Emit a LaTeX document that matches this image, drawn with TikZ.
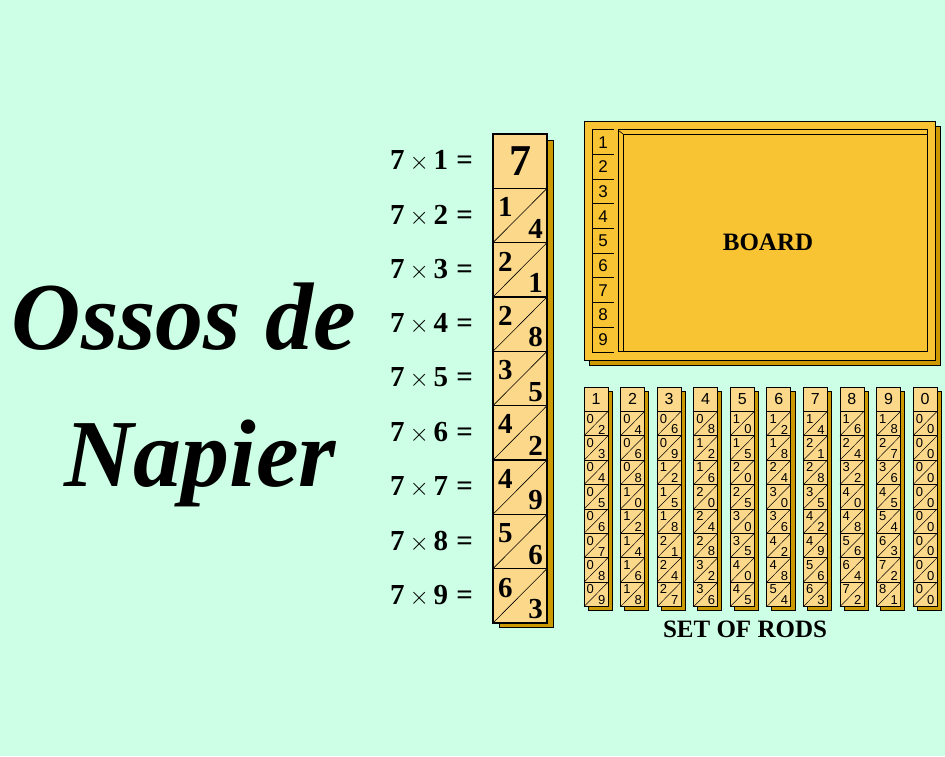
\documentclass[tikz,border=0pt]{standalone}
\usepackage{fontspec}
\setmainfont{Liberation Serif}
\newfontfamily\rodfont{Liberation Sans}
\usetikzlibrary{positioning, calc}

\definecolor{mint}{RGB}{204,255,229}
\definecolor{rodfill}{RGB}{252,217,138}
\definecolor{boardfill}{RGB}{249,196,51}
\definecolor{shade}{RGB}{204,153,0}

\begin{document}
\begin{tikzpicture}[
    x=1pt, y=1pt,
    bigcell/.style={
        rectangle, draw, line width=1.2pt, fill=rodfill,
        minimum width=54pt, minimum height=54.33pt, inner sep=0pt, outer sep=0pt
    },
    rodcell/.style={
        rectangle, draw, line width=0.8pt, fill=rodfill,
        minimum width=24pt, minimum height=24.4pt, inner sep=0pt, outer sep=0pt
    },
    idxcell/.style={
        rectangle, minimum width=22pt, minimum height=24.67pt, inner sep=0pt,
        font=\rodfont\fontsize{17}{17}\selectfont
    },
    boardbox/.style={
        rectangle, draw, line width=1pt, fill=boardfill,
        minimum width=351pt, minimum height=239pt, inner sep=0pt, outer sep=0pt
    },
    eqlbl/.style={font=\fontsize{29}{29}\selectfont, inner sep=0pt, anchor=east},
    bigdig/.style={font=\bfseries\fontsize{29}{29}\selectfont, inner sep=0pt},
    smalldig/.style={font=\rodfont\fontsize{13}{13}\selectfont, inner sep=0pt},
    title/.style={font=\bfseries\itshape\fontsize{96}{96}\selectfont, inner sep=0pt},
    caption/.style={font=\bfseries\fontsize{25}{25}\selectfont, inner sep=0pt}
]

% background
\fill[mint] (0,0) rectangle (945,756);
\useasboundingbox (0,0) rectangle (945,756);

% title
\node[title, anchor=base] (title1) at (184,406) {Ossos de};
\node[title, anchor=base] (title2) at ($(title1.base)+(16,-136)$) {Napier};

% the 7 rod
\filldraw[fill=shade, draw=black, line width=0.8pt] (499,129) rectangle (553,616);
\foreach \i in {1,...,9} {
    \node[bigcell] (b\i) at (520,{622-(\i-0.5)*54.33}) {};
    \node[eqlbl, left=20pt of b\i] (eq\i) {\textbf{7}\,$\times$\,\textbf{\i}\;\textbf{=}};
}
\node[font=\bfseries\fontsize{44}{44}\selectfont, inner sep=0pt] at (b1) {7};
\foreach \i/\t/\u in {2/1/4, 3/2/1, 4/2/8, 5/3/5, 6/4/2, 7/4/9, 8/5/6, 9/6/3} {
    \draw[line width=0.6pt] (b\i.south west) -- (b\i.north east);
    \node[bigdig, anchor=north west] at ($(b\i.north west)+(5,-9)$) {\t};
    \node[bigdig, anchor=south east] at ($(b\i.south east)+(-4,4)$) {\u};
}

% board
\filldraw[fill=shade, draw=black, line width=0.8pt] (589,391) rectangle (940,630);
\node[boardbox] (board) at (759.5,514.5) {};
\draw[line width=1pt, fill=boardfill] (618,404) rectangle (927,626);
\draw[line width=0.8pt] (623,404) -- (623,622) -- (927,622);
\draw[line width=0.6pt] (618,626) -- (623,622);
\draw[line width=1pt] (592,404) -- (592,626);
\foreach \k in {1,...,9} {
    \node[idxcell] (idx\k) at (603,{626-(\k-0.5)*24.67}) {\k};
    \draw[line width=1pt] (idx\k.north west) -- (idx\k.north east);
}
\draw[line width=1pt] (idx9.south west) -- (idx9.south east);
\node[caption] (boardlbl) at (768,514) {BOARD};

% set of rods
\foreach \j in {1,...,10} {
    \pgfmathtruncatemacro{\d}{mod(\j,10)}
    \pgfmathsetmacro{\xl}{584+(\j-1)*36.56}
    \filldraw[fill=shade, draw=black, line width=0.6pt] ({\xl+4},145.4) rectangle ({\xl+28},365);
    \node[rodcell, font=\rodfont\fontsize{16}{16}\selectfont] (r\j-1) at ({\xl+12},{369-12.2}) {\d};
    \foreach \k in {2,...,9} {
        \pgfmathtruncatemacro{\p}{\d*\k}
        \pgfmathtruncatemacro{\t}{int(\p/10)}
        \pgfmathtruncatemacro{\u}{mod(\p,10)}
        \node[rodcell] (r\j-\k) at ({\xl+12},{369-(\k-0.5)*24.4}) {};
        \draw[line width=0.5pt] (r\j-\k.south west) -- (r\j-\k.north east);
        \node[smalldig, anchor=north west] at ($(r\j-\k.north west)+(2.5,-2.5)$) {\t};
        \node[smalldig, anchor=south east] at ($(r\j-\k.south east)+(-2.5,1.5)$) {\u};
    }
}
\node[caption] (rodslbl) at (745,127) {SET OF RODS};

\end{tikzpicture}
\end{document}
